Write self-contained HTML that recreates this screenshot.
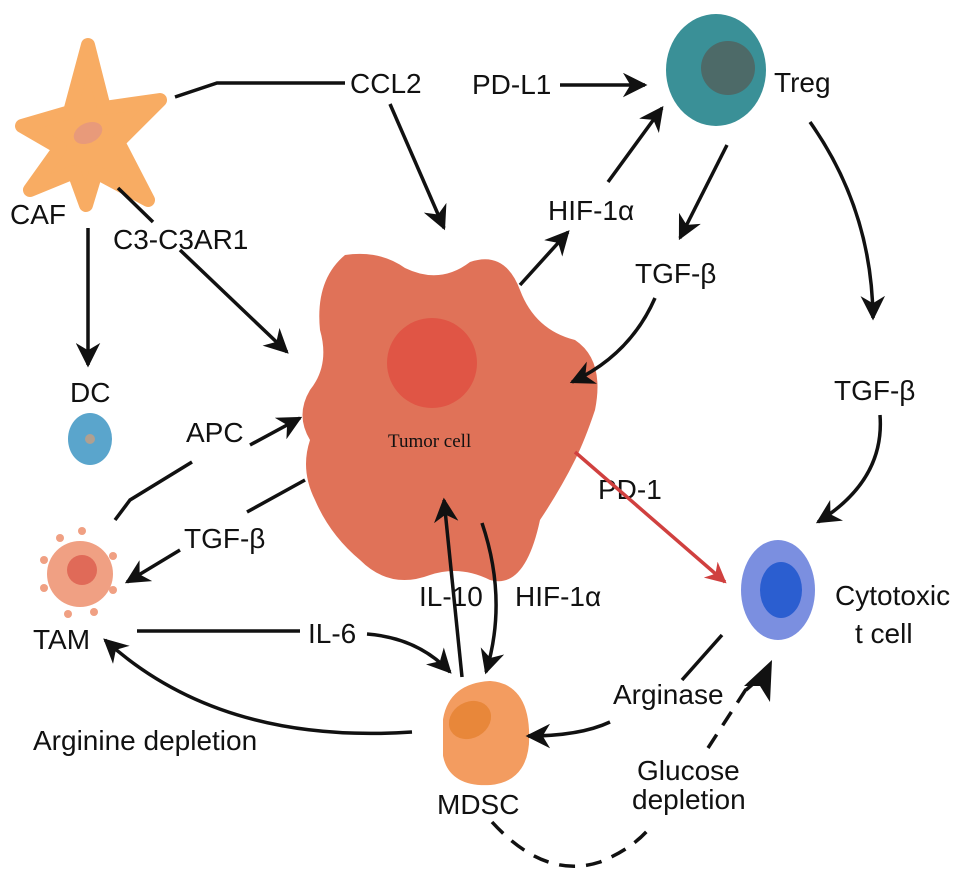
<!DOCTYPE html>
<html><head><meta charset="utf-8"><style>
body{margin:0;background:#fff}
svg{display:block}
text{font-family:"Liberation Sans",sans-serif;font-size:28px;fill:#111}
</style></head><body>
<svg width="969" height="880" viewBox="0 0 969 880" xmlns="http://www.w3.org/2000/svg">
<defs>
<marker id="a" viewBox="0 0 10 10" refX="9" refY="5" markerWidth="7" markerHeight="7" orient="auto" markerUnits="strokeWidth"><path d="M0,0 L10,5 L0,10 L3,5 z" fill="#111"/></marker>
<marker id="r" viewBox="0 0 10 10" refX="9" refY="5" markerWidth="6" markerHeight="6" orient="auto" markerUnits="strokeWidth"><path d="M0,0 L10,5 L0,10 L3,5 z" fill="#d0403f"/></marker>
</defs>
<!-- CAF star -->
<path d="M88,45 L104,108 L160,100 L118,142 L148,200 L96,172 L86,205 L74,172 L30,190 L60,148 L22,126 L70,112 Z" fill="#f8ac63" stroke="#f8ac63" stroke-width="14" stroke-linejoin="round"/>
<ellipse cx="88" cy="133" rx="15" ry="10" fill="#e89a7a" transform="rotate(-25 88 133)"/>
<text x="10" y="224">CAF</text>
<!-- DC -->
<ellipse cx="90" cy="439" rx="22" ry="26" fill="#5aa5cc"/>
<circle cx="90" cy="439" r="5" fill="#b0a090"/>
<text x="70" y="402">DC</text>
<!-- Tumor -->
<path d="M345,255 Q380,250 405,268 Q440,285 470,262 Q505,250 520,290 Q535,330 575,340 Q605,360 595,410 Q585,440 575,460 Q560,490 540,520 Q525,590 490,580 Q460,565 430,575 Q390,590 360,560 Q330,535 315,500 Q300,470 310,440 Q295,415 310,390 Q330,365 320,330 Q315,280 345,255 Z" fill="#e07258"/>
<circle cx="432" cy="363" r="45" fill="#e05545"/>
<text x="388" y="447" style="font-family:'Liberation Serif',serif;font-size:19px">Tumor cell</text>
<!-- TAM -->
<g fill="#f0a083">
<circle cx="80" cy="574" r="33"/>
<circle cx="82" cy="531" r="4"/><circle cx="113" cy="556" r="4"/><circle cx="113" cy="590" r="4"/><circle cx="94" cy="612" r="4"/><circle cx="68" cy="614" r="4"/><circle cx="44" cy="588" r="4"/><circle cx="44" cy="560" r="4"/><circle cx="60" cy="538" r="4"/>
</g>
<circle cx="82" cy="570" r="15" fill="#e06a58"/>
<text x="33" y="649">TAM</text>
<!-- MDSC -->
<path d="M450,720 Q455,690 490,688 Q520,690 522,730 Q525,775 490,778 Q455,780 450,755 Z" fill="#f39c60" stroke="#f39c60" stroke-width="14" stroke-linejoin="round"/>
<ellipse cx="470" cy="720" rx="22" ry="18" fill="#e8873a" transform="rotate(-30 470 720)"/>
<text x="437" y="814">MDSC</text>
<!-- Treg -->
<ellipse cx="716" cy="70" rx="50" ry="56" fill="#3a9097"/>
<circle cx="728" cy="68" r="27" fill="#4d6a68"/>
<text x="774" y="92">Treg</text>
<!-- Cytotoxic -->
<ellipse cx="778" cy="590" rx="37" ry="50" fill="#7b8fe0"/>
<ellipse cx="781" cy="590" rx="21" ry="28" fill="#2b5ed0"/>
<text x="835" y="605">Cytotoxic</text>
<text x="855" y="643">t cell</text>
<!-- labels -->
<text x="350" y="93">CCL2</text>
<text x="472" y="94">PD-L1</text>
<text x="113" y="249">C3-C3AR1</text>
<text x="548" y="220">HIF-1α</text>
<text x="635" y="283">TGF-β</text>
<text x="834" y="400">TGF-β</text>
<text x="186" y="442">APC</text>
<text x="184" y="548">TGF-β</text>
<text x="598" y="499">PD-1</text>
<text x="419" y="606">IL-10</text>
<text x="515" y="606">HIF-1α</text>
<text x="308" y="643">IL-6</text>
<text x="613" y="704">Arginase</text>
<text x="33" y="750">Arginine depletion</text>
<text x="637" y="780">Glucose</text>
<text x="632" y="809">depletion</text>
<!-- connectors -->
<g fill="none" stroke="#111" stroke-width="3.5">
<polyline points="175,97 217,83 345,83"/>
<line x1="390" y1="104" x2="444" y2="228" marker-end="url(#a)"/>
<line x1="118" y1="188" x2="153" y2="222"/>
<line x1="180" y1="250" x2="287" y2="352" marker-end="url(#a)"/>
<line x1="88" y1="228" x2="88" y2="365" marker-end="url(#a)"/>
<line x1="560" y1="85" x2="645" y2="85" marker-end="url(#a)"/>
<line x1="520" y1="285" x2="568" y2="232" marker-end="url(#a)"/>
<line x1="608" y1="182" x2="662" y2="108" marker-end="url(#a)"/>
<line x1="727" y1="145" x2="680" y2="238" marker-end="url(#a)"/>
<path d="M655,298 Q630,355 572,382" marker-end="url(#a)"/>
<path d="M810,122 Q872,210 873,318" marker-end="url(#a)"/>
<path d="M880,415 Q885,480 818,522" marker-end="url(#a)"/>
<polyline points="115,520 130,500 192,462"/>
<line x1="250" y1="445" x2="300" y2="418" marker-end="url(#a)"/>
<line x1="305" y1="480" x2="247" y2="512"/>
<line x1="180" y1="550" x2="127" y2="582" marker-end="url(#a)"/>
<line x1="137" y1="631" x2="300" y2="631"/>
<path d="M367,634 Q418,638 450,672" marker-end="url(#a)"/>
<path d="M412,732 Q220,745 105,640" marker-end="url(#a)"/>
<line x1="462" y1="677" x2="444" y2="500" marker-end="url(#a)"/>
<path d="M482,523 Q508,600 486,672" marker-end="url(#a)"/>
<line x1="722" y1="635" x2="682" y2="680"/>
<path d="M610,722 Q580,736 528,736" marker-end="url(#a)"/>
<path d="M492,822 Q545,880 600,862 Q630,850 648,830" stroke-dasharray="16,11"/>
<path d="M708,748 L752,680" stroke-dasharray="16,11"/>
<path d="M746,690 L762,676"/>
</g>
<path d="M772,660 L770,702 L760,686 L744,686 Z" fill="#111"/>
<line x1="575" y1="452" x2="725" y2="582" stroke="#d0403f" stroke-width="3.5" marker-end="url(#r)"/>
</svg>
</body></html>
